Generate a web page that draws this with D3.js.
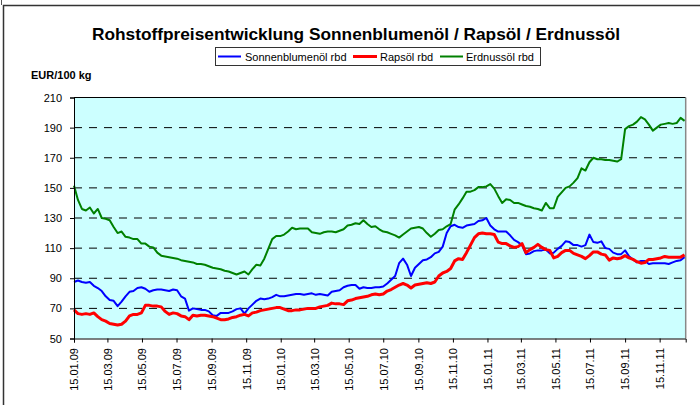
<!DOCTYPE html>
<html><head><meta charset="utf-8">
<script src="https://cdn.jsdelivr.net/npm/d3@7"></script>
<style>body{margin:0;background:#fff}svg{display:block;font-family:"Liberation Sans",Arial,sans-serif}</style>
</head><body><svg id="c" width="700" height="405"></svg>
<script>
const chartTitle = "Rohstoffpreisentwicklung Sonnenblumenöl / Rapsöl / Erdnussöl";
const yLabel = "EUR/100 kg";
const seriesNames = ["Sonnenblumenöl rbd", "Rapsöl rbd", "Erdnussöl rbd"];
const dates = [
"2009-01-15","2009-01-22","2009-01-29","2009-02-05","2009-02-12","2009-02-19","2009-02-26","2009-03-05","2009-03-12","2009-03-19","2009-03-26","2009-04-02","2009-04-09","2009-04-16","2009-04-23","2009-04-30","2009-05-07","2009-05-14","2009-05-21","2009-05-28","2009-06-04","2009-06-11","2009-06-18","2009-06-25","2009-07-02","2009-07-09","2009-07-16","2009-07-23","2009-07-30","2009-08-06","2009-08-13","2009-08-20","2009-08-27","2009-09-03","2009-09-10","2009-09-17","2009-09-24","2009-10-01","2009-10-08","2009-10-15","2009-10-22","2009-10-29","2009-11-05","2009-11-12","2009-11-19","2009-11-26","2009-12-03","2009-12-10","2009-12-17","2009-12-24","2009-12-31",
"2010-01-07","2010-01-14","2010-01-21","2010-01-28","2010-02-04","2010-02-11","2010-02-18","2010-02-25","2010-03-04","2010-03-11","2010-03-18","2010-03-25","2010-04-01","2010-04-08","2010-04-15","2010-04-22","2010-04-29","2010-05-06","2010-05-13","2010-05-20","2010-05-27","2010-06-03","2010-06-10","2010-06-17","2010-06-24","2010-07-01","2010-07-08","2010-07-15","2010-07-22","2010-07-29","2010-08-05","2010-08-12","2010-08-19","2010-08-26","2010-09-02","2010-09-09","2010-09-16","2010-09-23","2010-09-30","2010-10-07","2010-10-14","2010-10-21","2010-10-28","2010-11-04","2010-11-11","2010-11-18","2010-11-25","2010-12-02","2010-12-09","2010-12-16","2010-12-23","2010-12-30",
"2011-01-06","2011-01-13","2011-01-20","2011-01-27","2011-02-03","2011-02-10","2011-02-17","2011-02-24","2011-03-03","2011-03-10","2011-03-17","2011-03-24","2011-03-31","2011-04-07","2011-04-14","2011-04-21","2011-04-28","2011-05-05","2011-05-12","2011-05-19","2011-05-26","2011-06-02","2011-06-09","2011-06-16","2011-06-23","2011-06-30","2011-07-07","2011-07-14","2011-07-21","2011-07-28","2011-08-04","2011-08-11","2011-08-18","2011-08-25","2011-09-01","2011-09-08","2011-09-15","2011-09-22","2011-09-29","2011-10-06","2011-10-13","2011-10-20","2011-10-27","2011-11-03","2011-11-10","2011-11-17","2011-11-24","2011-12-01","2011-12-08","2011-12-15","2011-12-22","2011-12-29"
];
const sonnenblumenoel = [
87.5,88.5,87.5,87,87.5,85,83.5,81.5,78,75.5,
75,71.5,74.5,78,81,81.5,83.5,84,83,81,
82,82.5,82.5,82,81.5,82.5,82,78,76.5,68.5,
70,69.5,69,69,68,65.5,65,67,67,67,
68,69.5,70,66.5,70,72.5,75,76.5,76,76.5,
77.5,79,78,78,78.5,79,79.5,79.5,79,79.5,
80,79,79.5,79,78.5,81,81.5,82,84,85,
85.5,85.5,83,84,83.5,83.5,84,84,84.5,86.5,
89,91.5,100,103,99,91.5,97,99.5,102,102.5,
104,106.5,107.5,111,120,124.5,125.5,124,123.5,125,
125.5,126,128,128.5,130,125,122.5,121,121,121,
118.5,115.5,114,112,106,106.5,108,108.5,108.5,109,
106.5,107,109.5,111.5,114.5,114,112,112,111,112,
119,114,113.5,114.5,110,109.5,107,106,106,108.5,
104.5,102.5,100.5,101.5,101.5,99.5,100,100,100,100,
99.5,100.5,101.5,102,104
];
const rapsoel = [
69,66.5,66,66.5,66,67,64.5,62.5,61.5,60,
59.5,59,59.5,61.5,65,66,66,67,72,72,
71.5,71.5,71,68,66,67,66.5,65,64.5,62.5,
65.5,65,65.5,65.5,65,64.5,63.5,62.5,62.5,63,
64,64.5,65.5,66,65,67,67.5,68.5,69,69.5,
70,70.5,70.5,69.5,68.5,68.5,69,69,69.5,70,
70,70,71,71.5,72,73.5,73,73,72.5,75,
75.5,76.5,77,77.5,78,79,79.5,79,79.5,81.5,
82.5,84,85.5,86.5,85.5,83.5,85.5,86,86.5,87,
86.5,87.5,91.5,93.5,94.5,96.5,101.5,103,102.5,107,
112,117,119.5,120,119.5,119.5,119,114,113,113,
111.5,110.5,111,113,107,109,110.5,112.5,110.5,109,
108.5,103.5,104.5,107,108.5,108.5,106.5,105.5,104.5,103,
105,107.5,107.5,106,105.5,102,103.5,103,103.5,105,
103.5,102.5,101,100,100.5,102.5,102.5,103,103.5,104.5,
104,104,104,104,105.5
];
const erdnussoel = [
151.5,142,136,135,137,133,136,130,129.5,128.5,
124,120,121,117.5,117,116,116,113,113,111,
110.5,107,105,104.5,104,103.5,103,102,101.5,101,
100.5,99.5,99.5,99,98,97,96.5,96,95,94.5,
93.5,92.5,93.5,94.5,92.5,96,99,98.5,103,109.5,
116,118,118,119,121,123.5,122.5,123,123,123,
120.5,120,119.5,120.5,121,121,120.5,121.5,122.5,125,
125.5,126.5,126,128.5,126,124,124.5,122.5,121,120.5,
119.5,118.5,117,119,121,123,123.5,124,123,120,
117.5,119.5,122,122.5,124.5,126,135.5,139,143,147.5,
147.5,148.5,150.5,150.5,151,152.5,149.5,144.5,140,142.5,
142,140,140,139,138,137.5,136.5,136,135,140,
136.5,136.5,144,147,150,151,153.5,156.5,163,161.5,
167,170,169,169,168.5,168.5,168,167.5,169,189,
191,192,194,197,195.5,192,188,190,192,192.5,
193,192.5,193,196.5,194.5
];
const yTicks = [50,70,90,110,130,150,170,190,210];
const xTickLabels = ["15.01.09","15.03.09","15.05.09","15.07.09","15.09.09","15.11.09","15.01.10","15.03.10","15.05.10","15.07.10","15.09.10","15.11.10","15.01.11","15.03.11","15.05.11","15.07.11","15.09.11","15.11.11"];
const xDomain = ["2009-01-15","2011-12-31"];
const colors = ["#0000ff","#ff0000","#008000"];
const widths = [2,3,2];

const svg = d3.select("#c");
const parseISO = d3.timeParse("%Y-%m-%d");
const parseTick = d3.timeParse("%d.%m.%y");

const L = 74, R = 685.7, T = 97.5, B = 338.5;
const x = d3.scaleTime().domain(xDomain.map(parseISO)).range([L, R]);
const y = d3.scaleLinear().domain([50,210]).range([B, T]);

svg.append("rect").attr("width",700).attr("height",405).attr("fill","#fff");
// outer frame
svg.append("path").attr("d","M3.5,405V5.5H700").attr("fill","none").attr("stroke","#333").attr("stroke-width",1.5);
svg.append("path").attr("d","M1.5,0V5").attr("fill","none").attr("stroke","#555").attr("stroke-width",1);

svg.append("text").attr("x",356).attr("y",39.5).attr("text-anchor","middle")
  .attr("font-weight","bold").attr("font-size",17.3).attr("fill","#000").text(chartTitle);

// legend
const lg = svg.append("g");
lg.append("rect").attr("x",215.5).attr("y",47.5).attr("width",325).attr("height",18)
  .attr("fill","#fff").attr("stroke","#333").attr("stroke-width",1);
const legPos = [[218,241,245],[353,377,380],[440,463,466]];
seriesNames.forEach((n,i)=>{
  lg.append("line").attr("x1",legPos[i][0]).attr("x2",legPos[i][1]).attr("y1",56.5).attr("y2",56.5)
    .attr("stroke",colors[i]).attr("stroke-width",widths[i]);
  lg.append("text").attr("x",legPos[i][2]).attr("y",60.5).attr("font-size",11).attr("fill","#000").text(n);
});

svg.append("text").attr("x",31).attr("y",79).attr("font-weight","bold").attr("font-size",11).attr("fill","#000").text(yLabel);

// plot background
svg.append("rect").attr("x",L).attr("y",T).attr("width",R-L).attr("height",B-T).attr("fill","#ccffff");

// gridlines
svg.append("g").selectAll("line").data(yTicks.filter(v=>v>50 && v<210)).join("line")
  .attr("x1",L).attr("x2",R).attr("y1",d=>y(d)).attr("y2",d=>y(d))
  .attr("stroke","#000").attr("stroke-width",1).attr("stroke-dasharray","8,7");

// borders
svg.append("line").attr("x1",L).attr("x2",R).attr("y1",T).attr("y2",T).attr("stroke","#000");
svg.append("line").attr("x1",R).attr("x2",R).attr("y1",T).attr("y2",B).attr("stroke","#888").attr("stroke-width",1.5);

// series
const seriesVals = [sonnenblumenoel, rapsoel, erdnussoel];
const line = d3.line().x(d=>x(d[0])).y(d=>y(d[1]));
seriesVals.forEach((vals,i)=>{
  const n = Math.min(vals.length, dates.length);
  const data = d3.range(n).map(k=>[parseISO(dates[k]), vals[k]]);
  svg.append("path").datum(data).attr("d",line).attr("fill","none")
    .attr("stroke",colors[i]).attr("stroke-width",widths[i]).attr("stroke-linejoin","round");
});

// axes
const yAxis = svg.append("g").attr("transform",`translate(${L},0)`)
  .call(d3.axisLeft(y).tickValues(yTicks).tickSize(4).tickPadding(8).tickFormat(d3.format("d")));
yAxis.selectAll("text").attr("font-size",11).attr("font-family","Liberation Sans, Arial, sans-serif").attr("fill","#000");
yAxis.select(".domain").attr("stroke","#000");
yAxis.selectAll(".tick line").attr("stroke","#000");

const xAxis = svg.append("g").attr("transform",`translate(0,${B})`)
  .call(d3.axisBottom(x).tickValues(xTickLabels.map(parseTick)).tickSize(4).tickFormat(d3.timeFormat("%d.%m.%y")));
xAxis.select(".domain").attr("stroke","#000");
xAxis.selectAll(".tick line").attr("stroke","#000");
xAxis.selectAll("text").attr("font-size",11).attr("font-family","Liberation Sans, Arial, sans-serif").attr("fill","#000")
  .attr("transform","rotate(-90)").attr("text-anchor","end").attr("x",-9.5).attr("y",0).attr("dy","0.35em");
</script>
</body></html>
